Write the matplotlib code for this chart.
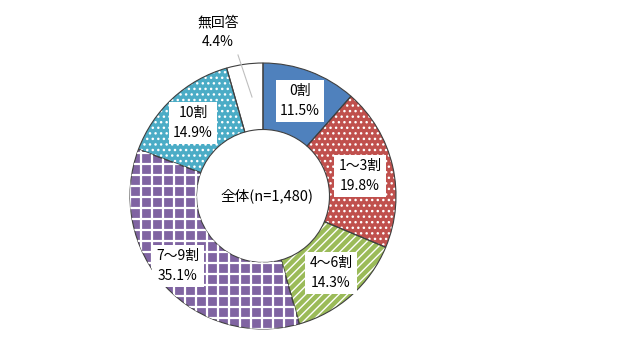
import numpy as np
import matplotlib.pyplot as plt
import matplotlib as mpl

plt.rcParams['font.family'] = ['Noto Sans CJK JP', 'DejaVu Sans']
mpl.rcParams['hatch.linewidth'] = 1.0

labels = ["0割", "1～3割", "4～6割", "7～9割", "10割", "無回答"]
values = [11.5, 19.8, 14.3, 35.1, 14.9, 4.4]
colors = ["#4f81bd", "#c0504d", "#9bbb59", "#8064a2", "#4bacc6", "#ffffff"]
hatches = [None, "...", "////", None, "...", None]
total_label = "全体(n=1,480)"

# label centres in pixel coords (x, y from top)
label_px = [(300, 101), (360, 176), (331, 273), (178, 266), (193, 123), (218, 32)]

W, H = 620, 350
cx, cy, R = 263, 196, 133

fig = plt.figure(figsize=(6.2, 3.5), dpi=100)
ax = fig.add_axes([(cx - R) / W, (H - cy - R) / H, 2 * R / W, 2 * R / H])

wedges, _ = ax.pie(values, colors=colors, startangle=90, counterclock=False,
                   radius=1, wedgeprops=dict(width=0.5, linewidth=0))
for w, h in zip(wedges, hatches):
    if h:
        w.set_hatch(h)
        w.set_edgecolor("white")

# white grid on the 7～9割 wedge
step = 11 / R
for g in np.arange(-1, 1.01, step):
    for ln in (ax.plot([g, g], [-1, 1]) + ax.plot([-1, 1], [g, g])):
        ln.set_color("white")
        ln.set_linewidth(1.6)
        ln.set_clip_path(wedges[3])

# outlines
ax.pie(values, colors=colors, startangle=90, counterclock=False, radius=1,
       wedgeprops=dict(width=0.5, fill=False, edgecolor="#404040", linewidth=0.8))

def to_data(px, py):
    return (px - cx) / R, (cy - py) / R

for i, (lab, v) in enumerate(zip(labels, values)):
    x, y = to_data(*label_px[i])
    box = None if lab == "無回答" else dict(facecolor="white", edgecolor="none", pad=3)
    ax.text(x, y, f"{lab}\n{v}%", ha="center", va="center", fontsize=10,
            linespacing=1.55, bbox=box, clip_on=False)

# leader line for 無回答
x0, y0 = to_data(238, 55)
x1, y1 = to_data(252, 97)
ax.plot([x0, x1], [y0, y1], color="#bfbfbf", linewidth=0.8, clip_on=False)

ax.text(0.03, 0, total_label, ha="center", va="center", fontsize=10.5)

ax.set_xlim(-1, 1)
ax.set_ylim(-1, 1)
ax.axis("off")

fig.savefig("out.png", dpi=100)
